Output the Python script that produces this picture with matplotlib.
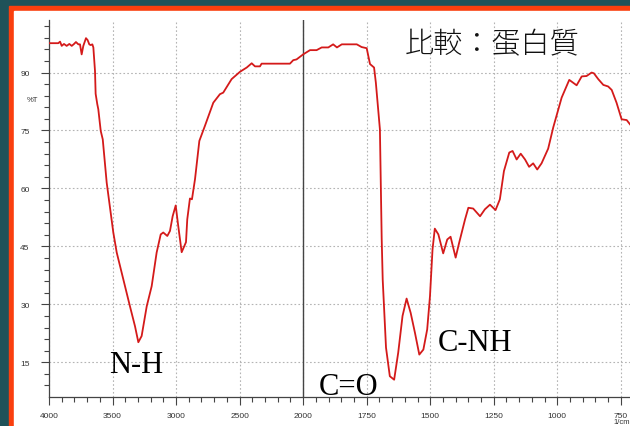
import numpy as np
import matplotlib
matplotlib.use("Agg")
import matplotlib.pyplot as plt
from matplotlib.patches import Rectangle
from matplotlib.ticker import FixedLocator

# IR spectrum of protein
wavenumber = [4000, 3992, 3927, 3913, 3900, 3882, 3861, 3840, 3821, 3803, 3788, 3769,
              3756, 3743, 3730, 3709, 3696, 3683, 3672, 3659, 3651, 3638, 3633, 3620,
              3612, 3593, 3577, 3546, 3494, 3467, 3415, 3363, 3323, 3297, 3271, 3231,
              3192, 3153, 3121, 3101, 3069, 3048, 3027, 3003, 2983, 2956, 2922, 2912,
              2891, 2875, 2851, 2817, 2773, 2707, 2655, 2629, 2563, 2497, 2444, 2405,
              2379, 2340, 2327, 2104, 2078, 2052, 2000, 1973, 1947, 1927, 1901, 1882,
              1867, 1848, 1789, 1770, 1750, 1737, 1721, 1714, 1698, 1695, 1691, 1687,
              1674, 1659, 1642, 1626, 1609, 1593, 1577, 1560, 1543, 1527, 1512, 1501,
              1491, 1482, 1468, 1449, 1433, 1420, 1400, 1386, 1363, 1350, 1331, 1304,
              1285, 1265, 1243, 1226, 1210, 1189, 1176, 1160, 1144, 1127, 1111, 1095,
              1079, 1062, 1036, 1016, 983, 953, 924, 904, 885, 865, 856, 839,
              819, 800, 786, 767, 747, 727, 714]
transmittance = [97.6, 97.6, 97.6, 98.0, 96.9, 97.4, 96.9, 97.4, 96.9, 97.4, 97.9, 97.3,
                 97.3, 94.7, 96.9, 98.9, 98.4, 97.3, 97.1, 97.3, 96.5, 90.4, 84.5, 81.8,
                 80.5, 74.9, 72.7, 61.5, 48.6, 43.4, 36.4, 29.5, 24.3, 20.2, 21.8, 29.5,
                 34.7, 43.4, 48.1, 48.6, 47.7, 49.0, 52.8, 55.6, 50.3, 43.5, 46.1, 52.0,
                 57.4, 57.2, 62.4, 72.3, 76.2, 82.2, 84.4, 84.8, 88.3, 90.2, 91.3, 92.4,
                 91.6, 91.6, 92.3, 92.3, 93.2, 93.4, 94.7, 95.8, 95.8, 96.5, 96.5, 97.3,
                 96.5, 97.3, 97.3, 96.6, 96.3, 92.2, 91.3, 87.4, 75.3, 62.4, 47.0, 36.4,
                 18.8, 11.4, 10.5, 17.5, 27.0, 31.5, 27.8, 22.6, 17.0, 18.3, 23.5, 32.1,
                 44.2, 49.6, 48.1, 43.2, 46.8, 47.5, 42.1, 46.0, 52.0, 55.0, 54.8, 52.8,
                 54.6, 55.8, 54.4, 57.2, 64.5, 69.3, 69.7, 67.5, 69.0, 67.5, 65.6, 66.5,
                 64.9, 66.5, 70.3, 75.8, 83.5, 88.1, 86.7, 89.0, 89.1, 90.0, 89.8, 88.3,
                 86.8, 86.4, 85.5, 82.2, 77.9, 77.7, 76.6]

x_major = [4000, 3500, 3000, 2500, 2000, 1750, 1500, 1250, 1000, 750]
y_major = [15, 30, 45, 60, 75, 90]

peak_labels = ["N-H", "C=O", "C-NH"]
peak_pos = [(3316, 12.6), (1820, 6.7), (1322, 18.3)]
title = "比較：蛋白質"


# spectrometer axis: scale doubles below 2000 1/cm
def fwd(x):
    x = np.asarray(x, dtype=float)
    return np.where(x >= 2000, x, 2 * x - 2000)


def inv(u):
    u = np.asarray(u, dtype=float)
    return np.where(u >= 2000, u, (u + 2000) / 2)


fig = plt.figure(figsize=(6.3, 4.27), dpi=100)
W, H = 630, 427
# frame: teal background, orange border, white sheet
fig.patches.append(Rectangle((0, 0), 1, 1, transform=fig.transFigure,
                             color="#1f5259", zorder=-3))
fig.patches.append(Rectangle((9 / W, 0), 1, (H - 7) / H, transform=fig.transFigure,
                             color="#fa3f0e", zorder=-2))
fig.patches.append(Rectangle((14 / W, 0), 1, (H - 12) / H, transform=fig.transFigure,
                             color="white", zorder=-1))

ax = fig.add_axes([49 / W, 29.3 / H, 1 - 49 / W, (406 - 29.3) / H])
ax.set_facecolor("none")
ax.set_xscale("function", functions=(fwd, inv))
ax.plot(wavenumber, transmittance, color="#d41a1a", lw=1.3, zorder=3)
ax.set_xlim(4000, 714)
ax.set_ylim(6.1, 103.6)

ax.set_xticks(x_major)
ax.xaxis.set_minor_locator(FixedLocator(list(range(4000, 2000, -100)) + list(range(2000, 700, -50))))
ax.set_yticks(y_major)
ax.yaxis.set_minor_locator(FixedLocator(np.arange(9, 104, 3)))
ax.tick_params(which="major", length=6, width=0.8, color="#444", labelsize=6,
               labelcolor="#333", pad=5)
ax.tick_params(which="minor", length=3.5, width=0.8, color="#444")
ax.tick_params(axis="y", pad=8)
for lab in ax.get_xticklabels() + ax.get_yticklabels():
    lab.set_family("Liberation Sans")

ax.grid(True, which="major", color="#b4b4b4", lw=0.8, ls=(0, (1.5, 2)))
ax.axvline(2000, color="#444", lw=1.0, zorder=2)
for side in ["top", "right"]:
    ax.spines[side].set_visible(False)
for side in ["left", "bottom"]:
    ax.spines[side].set_color("#444")
    ax.spines[side].set_linewidth(0.9)

for lab, (px, py) in zip(peak_labels, peak_pos):
    ax.text(px, py, lab, ha="center", va="baseline", fontsize=22,
            family="Liberation Serif", color="black", zorder=4)
ax.text(1257, 97.3, title, ha="center", va="center", fontsize=21, fontweight="light",
        family=["Noto Sans CJK JP", "DejaVu Sans"], color="#111", zorder=4)

fig.text(27 / W, 1 - 100 / H, "%T", fontsize=5.5, family="Liberation Sans",
         color="#333", va="center")
fig.text(613 / W, 0.5 / H, "1/cm", fontsize=5.5, family="Liberation Sans",
         color="#333", va="bottom")

fig.savefig("out.png", dpi=100)
